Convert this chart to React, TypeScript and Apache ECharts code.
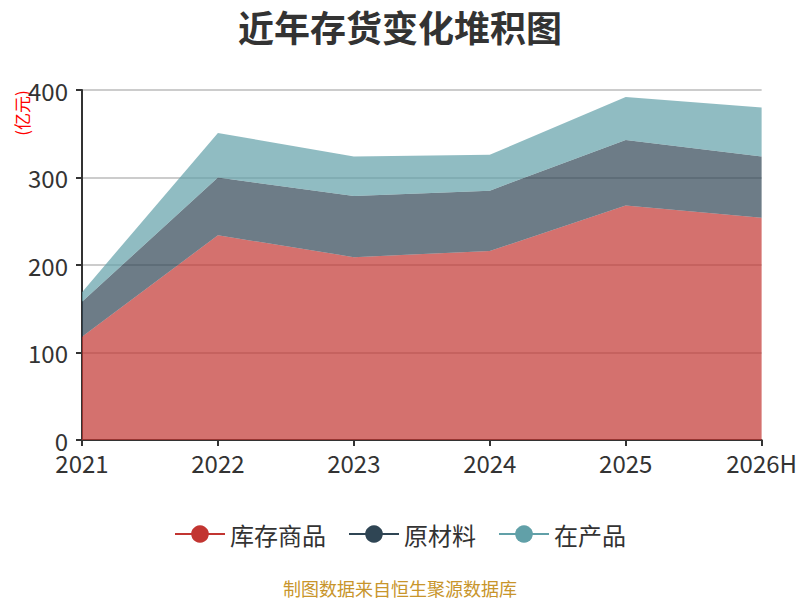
import React, { useEffect, useRef } from "react";
import * as echarts from "echarts";

const categories = ["2021", "2022", "2023", "2024", "2025", "2026H"];
const goods = [118, 234, 209, 216, 268, 254];
const materials = [40, 66, 70, 69, 75, 70];
const wip = [11, 51, 45, 41, 49, 56];
const seriesNames = ["库存商品", "原材料", "在产品"];
const colors = ["#c23531", "#2f4554", "#61a0a8"];

const FONT = "'Noto Sans CJK SC', 'Noto Sans', sans-serif";

export default function App() {
  const ref = useRef<HTMLDivElement>(null);
  useEffect(() => {
    if (!ref.current) return;
    const chart = echarts.init(ref.current, null, { renderer: "svg", width: 800, height: 600 });
    const data = [goods, materials, wip];
    chart.setOption({
      animation: false,
      color: colors,
      textStyle: { fontFamily: FONT },
      title: {
        text: "近年存货变化堆积图",
        left: "center",
        top: 3,
        textStyle: { fontSize: 36, fontWeight: "bold", color: "#333", fontFamily: FONT },
      },
      legend: {
        data: seriesNames,
        top: 517,
        left: "center",
        itemWidth: 50,
        itemHeight: 22,
        itemGap: 22,
        textStyle: { fontSize: 24, color: "#333", fontFamily: FONT },
        lineStyle: { width: 2 },
      },
      grid: { left: 82, width: 686, top: 90, height: 350, containLabel: false },
      xAxis: {
        type: "category",
        data: categories,
        boundaryGap: false,
        axisLine: { lineStyle: { color: "#333", width: 2 } },
        axisTick: { show: true, length: 6, lineStyle: { width: 2 } },
        axisLabel: { fontSize: 24, color: "#333", margin: 10 },
      },
      yAxis: {
        type: "value",
        min: 0,
        max: 400,
        interval: 100,
        axisLine: { show: true, lineStyle: { color: "#333", width: 2 } },
        axisTick: { show: true, length: 6, lineStyle: { width: 2 } },
        axisLabel: { fontSize: 24, color: "#333", margin: 14 },
        splitLine: { lineStyle: { color: "#ccc", width: 2 } },
      },
      graphic: [
        {
          type: "text",
          x: 21,
          y: 113,
          rotation: Math.PI / 2,
          style: {
            text: "(亿元)",
            fill: "#ff0000",
            font: `17px ${FONT}`,
            align: "center",
            verticalAlign: "middle",
          },
        },
        {
          type: "text",
          x: 400,
          y: 588,
          style: {
            text: "制图数据来自恒生聚源数据库",
            fill: "#c8952b",
            font: `18px ${FONT}`,
            align: "center",
            verticalAlign: "middle",
          },
        },
      ],
      series: seriesNames.map((name, i) => ({
        name,
        type: "line",
        stack: "total",
        data: data[i],
        symbol: "circle",
        showSymbol: false,
        lineStyle: { width: 0 },
        areaStyle: { opacity: 0.7 },
      })),
    });
    return () => chart.dispose();
  }, []);
  return (
    <div
      ref={ref}
      style={{ position: "absolute", left: 0, top: 0, width: 800, height: 600 }}
    />
  );
}
